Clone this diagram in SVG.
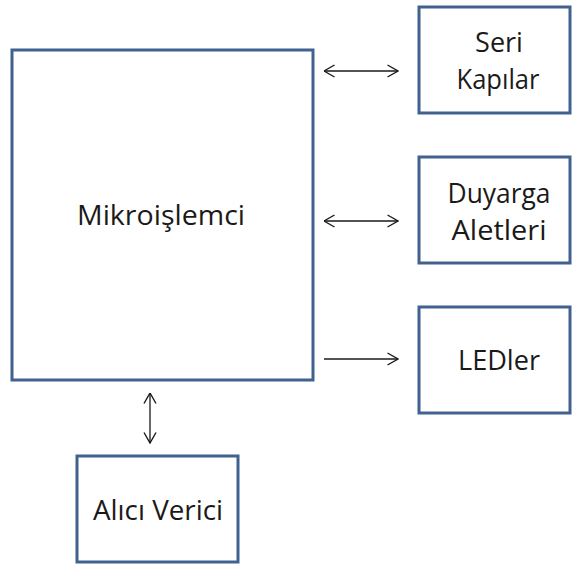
<svg xmlns="http://www.w3.org/2000/svg" width="572" height="565" viewBox="0 0 572 565">
  <style>
    .box { fill: #ffffff; stroke: #41618f; stroke-width: 3; }
    .lbl { font-family: "Open Sans", "Liberation Sans", sans-serif; font-size: 27px; fill: #1a1a1a; text-anchor: middle; }
    .wire { stroke: #1a1a1a; stroke-width: 1.3; fill: none; }
  </style>
  <defs>
    <marker id="head" viewBox="0 0 12 14" refX="11.5" refY="7" markerWidth="12" markerHeight="14" markerUnits="userSpaceOnUse" orient="auto-start-reverse">
      <path d="M1,1 L11.5,7 L1,13" fill="none" stroke="#1a1a1a" stroke-width="1.4"/>
    </marker>
  </defs>
  <rect width="572" height="565" fill="#ffffff"/>

  <g id="mikroislemci">
    <rect class="box" x="12" y="50" width="301" height="330"/>
    <text class="lbl" x="161" y="225" textLength="168" lengthAdjust="spacingAndGlyphs">Mikroişlemci</text>
  </g>

  <g id="seri-kapilar">
    <rect class="box" x="419" y="7" width="151" height="106"/>
    <text class="lbl" x="499" y="52">Seri</text>
    <text class="lbl" x="498" y="89" textLength="83" lengthAdjust="spacingAndGlyphs">Kapılar</text>
  </g>

  <g id="duyarga-aletleri">
    <rect class="box" x="419" y="157" width="151" height="106"/>
    <text class="lbl" x="499" y="203" textLength="103" lengthAdjust="spacingAndGlyphs">Duyarga</text>
    <text class="lbl" x="499" y="240" textLength="95" lengthAdjust="spacingAndGlyphs">Aletleri</text>
  </g>

  <g id="ledler">
    <rect class="box" x="419" y="307" width="151" height="106"/>
    <text class="lbl" x="499" y="370" textLength="82" lengthAdjust="spacingAndGlyphs">LEDler</text>
  </g>

  <g id="alici-verici">
    <rect class="box" x="77" y="456" width="161" height="106"/>
    <text class="lbl" x="158" y="520" textLength="130" lengthAdjust="spacingAndGlyphs">Alıcı Verici</text>
  </g>

  <g id="connectors">
    <line class="wire" x1="324" y1="71" x2="398" y2="71" marker-start="url(#head)" marker-end="url(#head)"/>
    <line class="wire" x1="324" y1="221" x2="398" y2="221" marker-start="url(#head)" marker-end="url(#head)"/>
    <line class="wire" x1="324" y1="359" x2="398" y2="359" marker-end="url(#head)"/>
    <line class="wire" x1="150" y1="393" x2="150" y2="443" marker-start="url(#head)" marker-end="url(#head)"/>
  </g>
</svg>
